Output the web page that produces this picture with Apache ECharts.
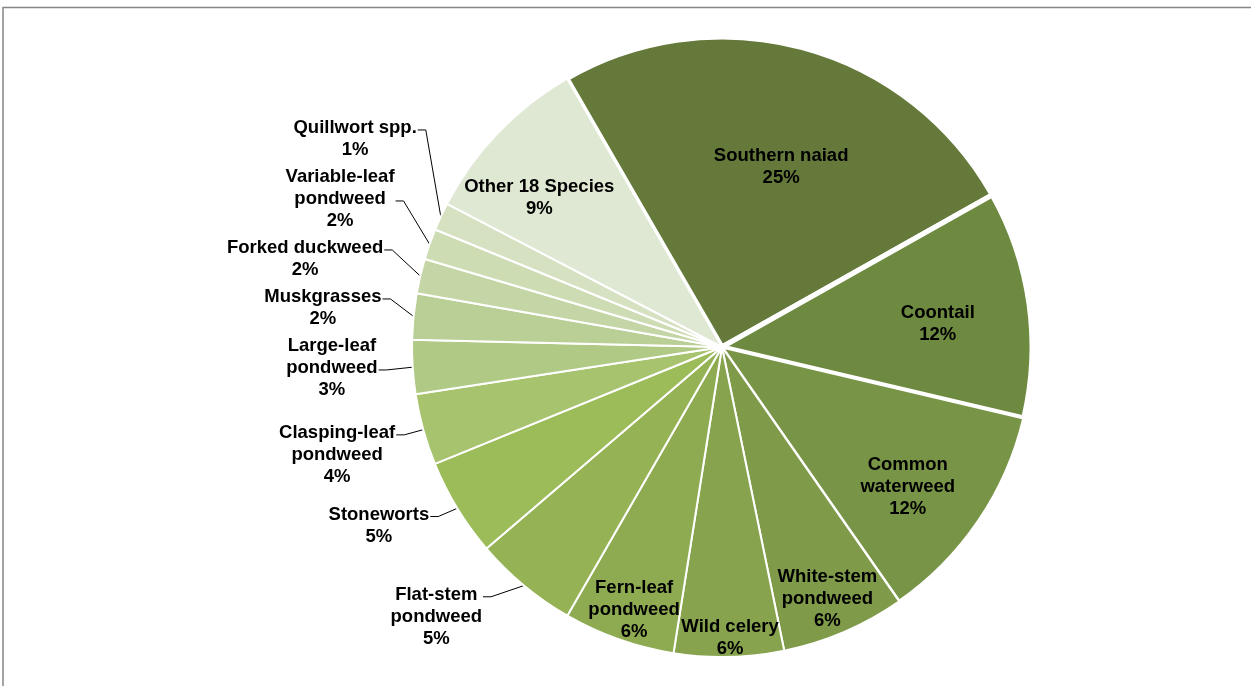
<!DOCTYPE html>
<html>
<head>
<meta charset="utf-8">
<script src="https://cdn.jsdelivr.net/npm/echarts@6/dist/echarts.min.js"></script>
<style>
html,body{margin:0;padding:0;background:#fff;}
#chart{width:1251px;height:686px;}
</style>
</head>
<body>
<div id="chart"></div>
<script>
// ---- data ----
const categories = ["Southern naiad","Coontail","Common\nwaterweed","White-stem\npondweed","Wild celery","Fern-leaf\npondweed","Flat-stem\npondweed","Stoneworts","Clasping-leaf\npondweed","Large-leaf\npondweed","Muskgrasses","Forked duckweed","Variable-leaf\npondweed","Quillwort spp.","Other 18 Species"];
const values = [25.1, 11.8, 11.6, 6.45, 5.7, 5.8, 5.4, 5.1, 3.7, 2.8, 2.4, 1.8, 1.6, 1.45, 9.0];

// ---- styles ----
const colors = ["#64793A","#6E8940","#789446","#7F9B4A","#87A34E","#8EAB52","#95B355","#9CBB59","#A7C36D","#B0C985","#BACF96","#C4D6A5","#CDDCB3","#D5E1C0","#DFE8D2"];
const borderW = [5,5,3,2,2,2,2,2,2,2,2,2,2,2,2];
// inside labels: radial fraction and small angular nudge (deg); null = outside label
const insideR   = [0.61,0.70,0.75,0.88,0.94,0.895,null,null,null,null,null,null,null,null,0.76];
const insideRot = [2.9,2.0,2.8,0.5,-0.3,-1.0,0,0,0,0,0,0,0,0,-4.6];
// outside labels: which text line the leader line attaches to, and horizontal gap from the rim
const attachLine = [0,0,0,0,0,0,0,0,0,1,0,0,1,0,0];
const labelGap   = [0,0,0,0,0,0,42,28,28,35,32,37,35,24,0];
const CX = 722, CY = 347, R = 310, START = -30; // START: degrees clockwise from 12 o'clock
const LH = 22, GAP = 5, LEN = 12;

// ---- geometry derived from the data ----
const total = values.reduce((a,b)=>a+b,0);
let cum = 0;
const mids = values.map(v=>{ const m = START + (cum + v/2)/total*360; cum += v; return m; });
function polar(deg, r){ const a = deg*Math.PI/180; return [CX + r*Math.sin(a), CY - r*Math.cos(a)]; }

// outside label stacking (bottom-up, like the spreadsheet layout)
const outside = categories.map((c,i)=>i).filter(i=>!insideR[i]).sort((a,b)=>polar(mids[b],R)[1]-polar(mids[a],R)[1]);
const outLayout = {};
let prevTop = Infinity;
outside.forEach(i=>{
  const nLines = categories[i].split('\n').length + 1;
  const ideal = polar(mids[i], R+LEN)[1];
  let top = ideal - LH/2 - attachLine[i]*LH;
  const bottom = top + nLines*LH;
  if (bottom > prevTop - GAP) top -= bottom - (prevTop - GAP);
  const edge = polar(mids[i], R);
  outLayout[i] = {top, attachY: top + LH/2 + attachLine[i]*LH + 2, right: edge[0]-labelGap[i], edge};
  prevTop = top;
});

const chart = echarts.init(document.getElementById('chart'), null, {renderer:'canvas'});
const data = categories.map((n,i)=>({
  name:n, value:values[i],
  itemStyle:{color:colors[i], borderColor:'#fff', borderWidth:borderW[i]},
  label:{position: insideR[i] ? 'inside' : 'outside'},
  labelLine:{show: !insideR[i]}
}));
chart.setOption({
  animation:false,
  graphic:[{type:'rect', shape:{x:3, y:7.5, width:1300, height:700}, style:{fill:'none', stroke:'#868686', lineWidth:1.5}, silent:true}],
  series:[{
    type:'pie',
    center:[CX, CY],
    radius:[0, R],
    startAngle:90 - START,
    clockwise:true,
    avoidLabelOverlap:false,
    data:data,
    label:{
      show:true,
      formatter:p=>p.name+'\n'+Math.round(p.percent)+'%',
      fontFamily:'Liberation Sans, Arial, sans-serif',
      fontWeight:'bold',
      fontSize:18.5,
      lineHeight:LH,
      color:'#000'
    },
    labelLine:{length:15, length2:12, lineStyle:{color:'#000', width:1}},
    labelLayout:function(p){
      const i = p.dataIndex;
      const w = p.labelRect.width;
      if(!insideR[i]){
        const L = outLayout[i];
        return {
          x: L.right - w/2, y: L.top, align:'center', verticalAlign:'top',
          labelLinePoints:[L.edge, [L.right+9, L.attachY], [L.right+1, L.attachY]]
        };
      }
      const pt = polar(mids[i] + insideRot[i], insideR[i]*R);
      return {x: pt[0], y: pt[1], align:'center', verticalAlign:'middle'};
    }
  }]
});
</script>
</body>
</html>
